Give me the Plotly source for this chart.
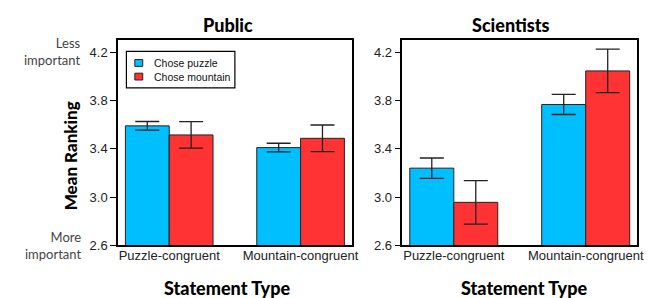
import plotly.graph_objects as go

categories = ["Puzzle-congruent", "Mountain-congruent"]
series_names = ["Chose puzzle", "Chose mountain"]
public_puzzle = [3.59, 3.41]
public_puzzle_err = [0.036, 0.036]
public_mountain = [3.515, 3.487]
public_mountain_err = [0.11, 0.11]
sci_puzzle = [3.24, 3.767]
sci_puzzle_err = [0.084, 0.083]
sci_mountain = [2.957, 4.045]
sci_mountain_err = [0.18, 0.18]
y_ticks = [2.6, 3.0, 3.4, 3.8, 4.2]

BLUE = "#00BFFF"
RED = "#FF3333"
series_colors = [BLUE, RED]
W, H = 652, 298

fig = go.Figure()

def add_bar(name, vals, errs, color, xa, ya):
    fig.add_trace(go.Bar(
        x=categories, y=vals, name=name, showlegend=False,
        marker=dict(color=color, line=dict(color="#222", width=1)),
        error_y=dict(type="data", array=errs, visible=True, color="#222",
                     thickness=1.3, width=12),
        xaxis=xa, yaxis=ya,
    ))

add_bar(series_names[0], public_puzzle, public_puzzle_err, BLUE, "x", "y")
add_bar(series_names[1], public_mountain, public_mountain_err, RED, "x", "y")
add_bar(series_names[0], sci_puzzle, sci_puzzle_err, BLUE, "x2", "y2")
add_bar(series_names[1], sci_mountain, sci_mountain_err, RED, "x2", "y2")

def px_x(p):
    return p / W

def px_y(p):
    return (H - p) / H

tickfont = dict(family="Liberation Sans, Arial, sans-serif", size=13, color="#222")
xcommon = dict(type="category", range=[-0.39, 1.39], showline=True, mirror=True,
               linecolor="black", linewidth=1.5, ticks="", showgrid=False,
               tickfont=tickfont, zeroline=False, ticklabelstandoff=-3)
ycommon = dict(range=[2.6, 4.3], tickvals=y_ticks, tickformat=".1f", showline=True,
               mirror=True, linecolor="black", linewidth=1.5, ticks="outside",
               ticklen=6, tickcolor="black", tickwidth=1.2, showgrid=False,
               zeroline=False, tickfont=tickfont)

ydom = [px_y(244), px_y(33)]
fig.update_layout(
    width=W, height=H,
    margin=dict(l=0, r=0, t=0, b=0),
    paper_bgcolor="white", plot_bgcolor="white",
    barmode="group", bargap=0.333, bargroupgap=0,
    xaxis=dict(domain=[px_x(111), px_x(347)], anchor="y", **xcommon),
    yaxis=dict(domain=ydom, anchor="x", **ycommon),
    xaxis2=dict(domain=[px_x(398), px_x(635)], anchor="y2", **xcommon),
    yaxis2=dict(domain=ydom, anchor="x2", **ycommon),
    showlegend=False,
)

# legend drawn manually (box, swatches, labels)
fig.add_shape(type="rect", xref="paper", yref="paper",
              x0=px_x(119.5), x1=px_x(229), y0=px_y(82), y1=px_y(44.5),
              line=dict(color="black", width=1.2), fillcolor="white")
sw_y = [53, 67]
for name, col, yy in zip(series_names, series_colors, sw_y):
    fig.add_shape(type="rect", xref="paper", yref="paper",
                  x0=px_x(128), x1=px_x(136), y0=px_y(yy + 7), y1=px_y(yy),
                  line=dict(color="#222", width=1), fillcolor=col)
    fig.add_annotation(text=name, xref="paper", yref="paper", x=px_x(145), y=px_y(yy + 3.5),
                       xanchor="left", yanchor="middle", showarrow=False,
                       font=dict(family="Liberation Sans, Arial, sans-serif", size=10.5, color="#111"))

title_font = dict(family="Lato, sans-serif", size=18, color="black", weight=900)
anns = [
    dict(text="Public", x=px_x(222), y=px_y(17), font=title_font),
    dict(text="Scientists", x=px_x(508), y=px_y(17), font=title_font),
    dict(text="Statement Type", x=px_x(221), y=px_y(288), font=title_font),
    dict(text="Statement Type", x=px_x(521), y=px_y(288), font=title_font),
    dict(text="Mean Ranking", x=px_x(63), y=px_y(152), textangle=-90,
         font=dict(family="Lato, sans-serif", size=17, color="black", weight=900)),
    dict(text="Less<br>important", x=px_x(76), y=px_y(45), xanchor="right", align="right",
         font=dict(family="Lato, sans-serif", size=13, color="#444")),
    dict(text="More<br>important", x=px_x(76), y=px_y(244), xanchor="right", align="right",
         font=dict(family="Lato, sans-serif", size=13, color="#444")),
]
for a in anns:
    a.setdefault("xanchor", "center")
    fig.add_annotation(xref="paper", yref="paper", showarrow=False, yanchor="middle", **a)

fig.write_html("out.html")
